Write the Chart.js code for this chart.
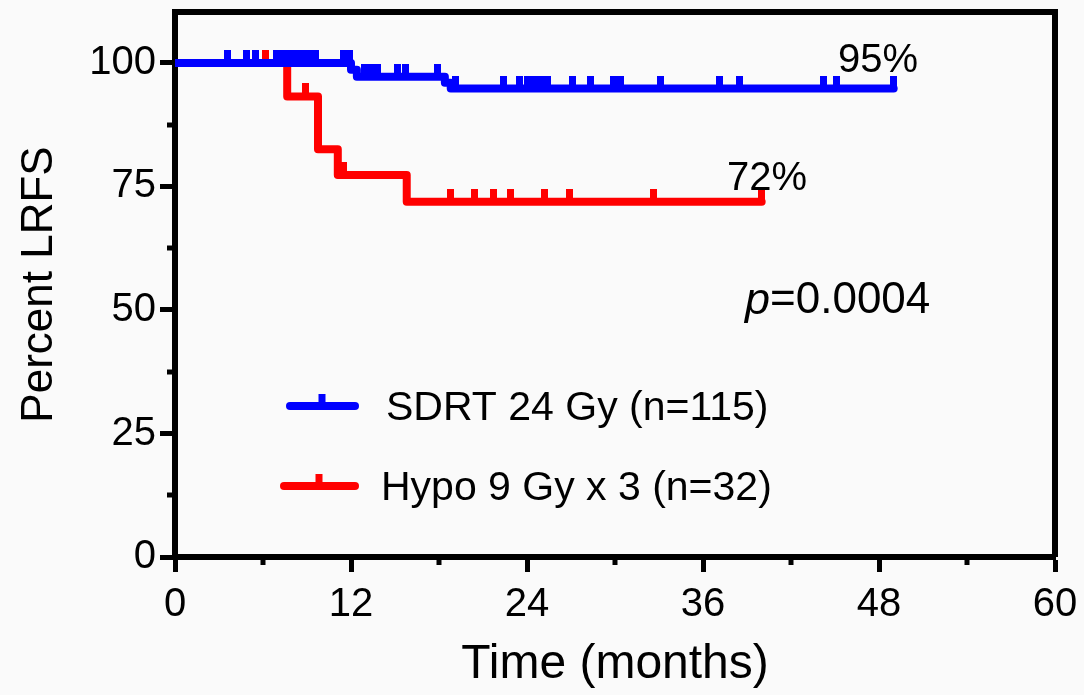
<!DOCTYPE html>
<html><head><meta charset="utf-8">
<script src="https://cdn.jsdelivr.net/npm/chart.js@4/dist/chart.umd.min.js"></script>
<style>
html,body{margin:0;padding:0;background:#fafafa;}
#wrap{position:relative;width:1084px;height:695px;}
</style></head><body>
<div id="wrap"><canvas id="c" width="1084" height="695"></canvas></div>
<script>
// ---- data ----
const xTickLabels = [0, 12, 24, 36, 48, 60];
const xMinorTicks = [6, 18, 30, 42, 54];
const yTickLabels = [0, 25, 50, 75, 100];
const yMinorTicks = [12.5, 37.5, 62.5, 87.5];

const seriesNames = ['SDRT 24 Gy (n=115)', 'Hypo 9 Gy x 3 (n=32)'];

// Kaplan-Meier steps (time in months, percent LRFS)
const sdrtTimes = [0, 12.0, 12.4, 18.4, 18.8, 49.0];
const sdrtSurv  = [100, 98.6, 97.2, 96.0, 94.8, 94.8];
const sdrtCensorTimes = [3.6, 4.9, 5.5, 6.9, 7.35, 7.8, 8.25, 8.7, 9.15, 9.6, 11.5, 11.9,
                         12.9, 13.4, 13.8, 15.2, 15.7, 17.9,
                         19.1, 22.4, 23.5, 24.0, 24.5, 25.0, 25.4, 27.1, 28.3, 29.9, 30.4, 33.1,
                         37.1, 38.5, 44.2, 45.1, 49.0];
const sdrtCensorSurv  = [100, 100, 100, 100, 100, 100, 100, 100, 100, 100, 100, 100,
                         97.2, 97.2, 97.2, 97.2, 97.2, 97.2,
                         94.8, 94.8, 94.8, 94.8, 94.8, 94.8, 94.8, 94.8, 94.8, 94.8, 94.8, 94.8,
                         94.8, 94.8, 94.8, 94.8, 94.8];

const hypoTimes = [0, 7.65, 9.75, 11.1, 15.8, 40.0];
const hypoSurv  = [100, 93.2, 82.5, 77.3, 71.9, 71.9];
const hypoCensorTimes = [6.2, 8.9, 11.5, 18.8, 20.4, 21.7, 22.9, 25.2, 26.9, 32.6, 40.0];
const hypoCensorSurv  = [100, 93.2, 77.3, 71.9, 71.9, 71.9, 71.9, 71.9, 71.9, 71.9, 71.9];

const endLabels = ['95%', '72%'];
const pValueText = '0.0004';

// ---- helpers ----
const BLUE = '#0000ff', RED = '#ff0000';
function pts(xs, ys) { return xs.map((x, i) => ({x: x, y: ys[i]})); }
function censorMark(color) {
  const c = document.createElement('canvas');
  c.width = 7; c.height = 26;
  const g = c.getContext('2d');
  g.fillStyle = color;
  g.fillRect(0, 0, 7, 13);
  return c;
}
const FONT = "'Liberation Sans', Arial, Helvetica, sans-serif";
Chart.defaults.font.family = FONT;
Chart.defaults.color = '#000';

const framePlugin = {
  id: 'frame',
  afterDraw(chart) {
    const {ctx, chartArea: a, scales} = chart;
    ctx.save();
    ctx.strokeStyle = '#000';
    ctx.lineWidth = 6;
    ctx.lineCap = 'butt';
    ctx.beginPath();
    ctx.moveTo(a.left - 3, a.top);
    ctx.lineTo(a.right, a.top);
    ctx.lineTo(a.right, a.bottom);
    ctx.stroke();
    // minor ticks
    ctx.lineWidth = 5;
    xMinorTicks.forEach(v => {
      const px = Math.round(scales.x.getPixelForValue(v));
      ctx.beginPath(); ctx.moveTo(px, a.bottom); ctx.lineTo(px, a.bottom + 8); ctx.stroke();
    });
    yMinorTicks.forEach(v => {
      const py = Math.round(scales.y.getPixelForValue(v));
      ctx.beginPath(); ctx.moveTo(a.left - 8, py); ctx.lineTo(a.left, py); ctx.stroke();
    });

    // annotations
    ctx.fillStyle = '#000';
    ctx.textBaseline = 'middle';
    ctx.textAlign = 'center';
    ctx.font = '40px ' + FONT;
    ctx.fillText(endLabels[0], 878, 61);
    ctx.fillText(endLabels[1], 767, 179);
    ctx.textAlign = 'left';
    ctx.font = 'italic 45px ' + FONT;
    ctx.fillText('p', 745, 301);
    const pw = ctx.measureText('p').width;
    ctx.font = '44px ' + FONT;
    ctx.fillText('=' + pValueText, 745 + pw, 301);

    // legend
    const items = [
      {label: seriesNames[0], color: BLUE, x0: 290, x1: 355, y: 406, tx: 386},
      {label: seriesNames[1], color: RED, x0: 284, x1: 355, y: 486, tx: 381}
    ];
    items.forEach(it => {
      ctx.strokeStyle = it.color;
      ctx.lineCap = 'round';
      ctx.lineWidth = 8;
      ctx.beginPath(); ctx.moveTo(it.x0, it.y); ctx.lineTo(it.x1, it.y); ctx.stroke();
      ctx.fillStyle = it.color;
      const mx = (it.x0 + it.x1) / 2;
      ctx.fillRect(mx - 4, it.y - 12, 7, 12);
      ctx.fillStyle = '#000';
      ctx.font = '41px ' + FONT;
      ctx.textAlign = 'left';
      ctx.fillText(it.label, it.tx, it.y + 3);
    });
    ctx.restore();
  }
};

new Chart(document.getElementById('c'), {
  type: 'line',
  data: {
    datasets: [
      {label: seriesNames[0], data: pts(sdrtTimes, sdrtSurv), borderColor: BLUE, borderWidth: 8,
       stepped: 'before', pointRadius: 0, fill: false, borderJoinStyle: 'round', borderCapStyle: 'round', order: 1},
      {label: '', data: pts(sdrtCensorTimes, sdrtCensorSurv), showLine: false, pointStyle: censorMark(BLUE),
       pointRadius: 4, pointHoverRadius: 4, order: 2},
      {label: seriesNames[1], data: pts(hypoTimes, hypoSurv), borderColor: RED, borderWidth: 8,
       stepped: 'before', pointRadius: 0, fill: false, borderJoinStyle: 'round', borderCapStyle: 'round', order: 3},
      {label: '', data: pts(hypoCensorTimes, hypoCensorSurv), showLine: false, pointStyle: censorMark(RED),
       pointRadius: 4, pointHoverRadius: 4, order: 4}
    ]
  },
  options: {
    responsive: false,
    animation: false,
    events: [],
    devicePixelRatio: 1,
    layout: {padding: {top: 12, right: 29, left: 0, bottom: 0}},
    plugins: {legend: {display: false}, tooltip: {enabled: false}},
    scales: {
      x: {
        type: 'linear', min: 0, max: 60,
        afterBuildTicks: s => { s.ticks = xTickLabels.map(v => ({value: v})); },
        afterFit: s => { s.height = 138; s.paddingLeft = 0; s.paddingRight = 0; },
        ticks: {font: {size: 40}, color: '#000', padding: 9, maxRotation: 0, autoSkip: false},
        grid: {drawOnChartArea: false, drawTicks: true, tickLength: 15, tickWidth: 5, tickColor: '#000'},
        border: {display: true, width: 6, color: '#000'},
        title: {display: true, text: 'Time (months)', font: {size: 48}, color: '#000', padding: {top: 0, bottom: 1}}
      },
      y: {
        type: 'linear', min: 0, max: 110.3,
        afterBuildTicks: s => { s.ticks = yTickLabels.map(v => ({value: v})); },
        afterFit: s => { s.width = 175; s.paddingTop = 0; s.paddingBottom = 0; },
        ticks: {font: {size: 40}, color: '#000', padding: 4, autoSkip: false},
        grid: {drawOnChartArea: false, drawTicks: true, tickLength: 15, tickWidth: 5, tickColor: '#000'},
        border: {display: true, width: 6, color: '#000'},
        title: {display: true, text: 'Percent LRFS', font: {size: 44}, color: '#000', padding: {top: 13, bottom: 0}}
      }
    }
  },
  plugins: [framePlugin]
});
</script>
</body></html>
